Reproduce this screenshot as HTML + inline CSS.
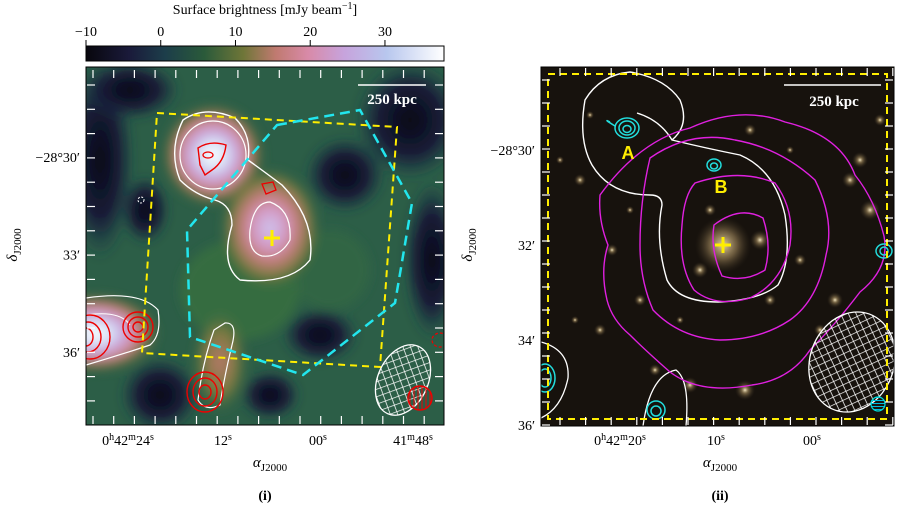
<!DOCTYPE html>
<html><head><meta charset="utf-8">
<style>
html,body{margin:0;padding:0;background:#fff;}
svg{display:block;font-family:"Liberation Serif",serif;}
</style></head>
<body>
<svg id="fig" width="899" height="508" viewBox="0 0 899 508" xmlns="http://www.w3.org/2000/svg">
<defs>
  <linearGradient id="cmap" x1="0" x2="1" y1="0" y2="0">
    <stop offset="0" stop-color="#08070d"/>
    <stop offset="0.12" stop-color="#1a1a3a"/>
    <stop offset="0.22" stop-color="#1c3d4a"/>
    <stop offset="0.33" stop-color="#2a5a3a"/>
    <stop offset="0.44" stop-color="#6f7638"/>
    <stop offset="0.53" stop-color="#c07a70"/>
    <stop offset="0.62" stop-color="#d88aa8"/>
    <stop offset="0.72" stop-color="#c7a3dc"/>
    <stop offset="0.84" stop-color="#b8c7ee"/>
    <stop offset="1" stop-color="#ffffff"/>
  </linearGradient>
  <radialGradient id="hotW"><stop offset="0" stop-color="#ffffff"/><stop offset="0.25" stop-color="#d8e4f6"/><stop offset="0.45" stop-color="#c8a6de"/><stop offset="0.62" stop-color="#d48a9c"/><stop offset="0.8" stop-color="#8e7548"/><stop offset="1" stop-color="#3b6a3e" stop-opacity="0"/></radialGradient>
  <radialGradient id="hotL"><stop offset="0" stop-color="#cdc6f0"/><stop offset="0.3" stop-color="#d49cc8"/><stop offset="0.55" stop-color="#c47e7c"/><stop offset="0.8" stop-color="#7a7a40"/><stop offset="1" stop-color="#3b6a3e" stop-opacity="0"/></radialGradient>
  <radialGradient id="warm"><stop offset="0" stop-color="#b8786a"/><stop offset="0.6" stop-color="#7a7a40"/><stop offset="1" stop-color="#3b6a3e" stop-opacity="0"/></radialGradient>
  <radialGradient id="dark"><stop offset="0" stop-color="#0a0914"/><stop offset="0.6" stop-color="#161a38" stop-opacity="0.95"/><stop offset="1" stop-color="#1c3d4a" stop-opacity="0"/></radialGradient>
  <radialGradient id="star"><stop offset="0" stop-color="#f4e6c0"/><stop offset="0.35" stop-color="#a88f60" stop-opacity="0.6"/><stop offset="1" stop-color="#3a2f20" stop-opacity="0"/></radialGradient>
  <radialGradient id="bcg"><stop offset="0" stop-color="#e8d3a0"/><stop offset="0.5" stop-color="#8b7550" stop-opacity="0.7"/><stop offset="1" stop-color="#3a2f20" stop-opacity="0"/></radialGradient>
  <filter id="blur"><feGaussianBlur stdDeviation="5"/></filter>
  <pattern id="hatch" width="7" height="7" patternUnits="userSpaceOnUse" patternTransform="rotate(45)">
    <path d="M0 0H7M0 0V7" stroke="#fff" stroke-width="1.4"/>
  </pattern>
  <pattern id="vhatch" width="4" height="4" patternUnits="userSpaceOnUse"><path d="M2 0V4" stroke="#e00" stroke-width="1"/></pattern>
  <pattern id="hhatch" width="4" height="3" patternUnits="userSpaceOnUse"><path d="M0 1.5H4" stroke="#0bd" stroke-width="1"/></pattern>
  <clipPath id="clipL"><rect x="86" y="67" width="358" height="358"/></clipPath>
  <clipPath id="clipR"><rect x="541" y="67" width="353" height="359"/></clipPath>
</defs>

<g>
  <text x="265" y="14" font-size="14" text-anchor="middle">Surface brightness [mJy beam<tspan dy="-5" font-size="10">−1</tspan><tspan dy="5">]</tspan></text>
  <rect x="86" y="46" width="358" height="15" fill="url(#cmap)" stroke="#000" stroke-width="1"/>
  <g id="cbticks"></g>
</g>

<g>
  <g clip-path="url(#clipL)">
    <rect x="86" y="67" width="358" height="358" fill="#2c5e47"/>
    <g filter="url(#blur)">
      <ellipse cx="240" cy="290" rx="60" ry="50" fill="#3a7040" opacity="0.8"/>
      <ellipse cx="330" cy="270" rx="40" ry="40" fill="#356a42" opacity="0.7"/>
      <ellipse cx="100" cy="160" rx="34" ry="100" fill="url(#dark)"/>
      <ellipse cx="130" cy="90" rx="50" ry="30" fill="url(#dark)"/>
      <ellipse cx="410" cy="120" rx="55" ry="60" fill="url(#dark)"/>
      <ellipse cx="345" cy="175" rx="40" ry="38" fill="url(#dark)"/>
      <ellipse cx="432" cy="260" rx="28" ry="80" fill="url(#dark)"/>
      <ellipse cx="160" cy="395" rx="40" ry="38" fill="url(#dark)"/>
      <ellipse cx="320" cy="335" rx="38" ry="28" fill="url(#dark)"/>
      <ellipse cx="145" cy="210" rx="24" ry="34" fill="url(#dark)"/>
      <ellipse cx="270" cy="395" rx="30" ry="25" fill="url(#dark)"/>
      <ellipse cx="213" cy="155" rx="52" ry="52" fill="url(#hotW)"/>
      <ellipse cx="270" cy="228" rx="50" ry="60" fill="url(#hotL)"/>
      <ellipse cx="95" cy="333" rx="65" ry="40" fill="url(#hotW)"/>
      <ellipse cx="220" cy="362" rx="28" ry="52" fill="url(#warm)"/>
    </g>
  </g>
  <g fill="none" clip-path="url(#clipL)">
    <path d="M183 120 Q205 105 235 118 Q252 135 248 160 Q262 170 282 185 Q316 220 310 260 Q290 285 240 280 Q220 265 232 225 Q232 205 215 200 Q195 195 180 180 Q168 150 183 120Z" stroke="#fff" stroke-width="1.4"/>
    <ellipse cx="213" cy="155" rx="33" ry="34" stroke="#fff" stroke-width="1.2"/>
    <path d="M270 202 Q292 210 290 240 Q280 258 262 256 Q248 252 250 230 Q254 202 270 202Z" stroke="#fff" stroke-width="1.2"/>
    <path d="M86 298 Q140 290 158 310 Q162 335 150 345 Q120 355 86 365" stroke="#fff" stroke-width="1.2"/>
    <path d="M86 315 Q120 310 130 325" stroke="#fff" stroke-width="1"/>
    <path d="M225 323 Q238 322 232 345 Q224 378 220 405 Q205 412 198 400 Q203 360 214 330Z" stroke="#fff" stroke-width="1.2"/>
    <path d="M198 148 Q210 140 226 145 Q224 162 212 170 L205 175 L200 165Z" stroke="#e00" stroke-width="1.4"/>
    <ellipse cx="208" cy="155" rx="5" ry="3" stroke="#e00" stroke-width="1.3"/>
    <path d="M262 184 L273 182 L276 190 L266 194Z" stroke="#e00" stroke-width="1.3"/>
    <ellipse cx="138" cy="327" rx="15" ry="15" stroke="#e00" stroke-width="1.4"/>
    <ellipse cx="138" cy="327" rx="10" ry="10" stroke="#e00" stroke-width="1.4"/>
    <ellipse cx="138" cy="327" rx="5" ry="5" stroke="#e00" stroke-width="1.4"/>
    <ellipse cx="90" cy="337" rx="20" ry="22" stroke="#e00" stroke-width="1.4"/>
    <ellipse cx="88" cy="337" rx="13" ry="15" stroke="#e00" stroke-width="1.4"/>
    <ellipse cx="86" cy="337" rx="7" ry="9" stroke="#e00" stroke-width="1.4"/>
    <ellipse cx="205" cy="392" rx="18" ry="20" stroke="#e00" stroke-width="1.4"/>
    <ellipse cx="205" cy="392" rx="12" ry="14" stroke="#e00" stroke-width="1.4"/>
    <ellipse cx="205" cy="392" rx="6" ry="7" stroke="#e00" stroke-width="1.4"/>
    <ellipse cx="440" cy="340" rx="8" ry="7" stroke="#e00" stroke-width="1.2" stroke-dasharray="3 2"/>
    <circle cx="141" cy="200" r="3" stroke="#fff" stroke-width="1" stroke-dasharray="2 1.5"/>
    <path d="M157 113 L397 127 L380 367 L142 353Z" stroke="#ffee00" stroke-width="2" stroke-dasharray="7 5"/>
    <path d="M277 125 L360 110 L412 203 L395 303 L303 375 L190 337 L187 230Z" stroke="#22e6ee" stroke-width="2.5" stroke-dasharray="10 6"/>
    <ellipse cx="403" cy="380" rx="25" ry="37" transform="rotate(25 403 380)" fill="url(#hatch)" stroke="#fff" stroke-width="1.3"/>
    <circle cx="420" cy="398" r="12" fill="url(#vhatch)" stroke="#e00" stroke-width="1.4"/>
    <path d="M272 230V246M264 238H280" stroke="#ffee00" stroke-width="3"/>
    <line x1="358" y1="85" x2="426" y2="85" stroke="#fff" stroke-width="1.5"/>
    <text x="392" y="104" font-size="15" font-weight="bold" fill="#fff" text-anchor="middle">250 kpc</text>
  </g>
  <rect x="86" y="67" width="358" height="358" fill="none" stroke="#000" stroke-width="1"/>
  <g id="ticksL"></g>
  <text x="270" y="467" font-size="15" text-anchor="middle"><tspan font-style="italic">α</tspan><tspan dy="4" font-size="11">J2000</tspan></text>
  <text transform="translate(17 245) rotate(-90)" font-size="15" text-anchor="middle"><tspan font-style="italic">δ</tspan><tspan dy="4" font-size="11">J2000</tspan></text>
  <text x="265" y="500" font-size="14" font-weight="bold" text-anchor="middle">(i)</text>
</g>

<g>
  <g clip-path="url(#clipR)">
    <rect x="541" y="67" width="353" height="359" fill="#17120d"/>
    <g id="stars"></g>
  </g>
  <g fill="none" clip-path="url(#clipR)">
    <path d="M637 113 Q660 120 672 140 Q705 148 740 155 Q775 170 785 215 Q792 260 778 285 Q760 300 718 302 Q678 302 667 280 Q655 240 662 205 Q662 195 650 195 Q610 195 592 165 Q578 140 585 100 Q600 75 630 72 Q665 78 680 100 Q690 125 672 140" stroke="#fff" stroke-width="1.4"/>
    <path d="M541 342 Q570 350 568 378 Q562 408 541 418" stroke="#fff" stroke-width="1.3"/>
    <path d="M643 426 Q650 375 676 370 Q690 380 686 426" stroke="#fff" stroke-width="1.3"/>
    <path d="M600 195 Q640 140 690 128 Q740 105 785 122 Q840 135 855 175 Q875 200 884 236 Q890 268 860 292 Q835 325 810 350 Q790 380 752 385 Q700 395 670 372 Q645 350 630 335 Q612 320 607 300 Q600 270 608 245 Q598 220 600 195Z" stroke="#e020e0" stroke-width="1.4"/>
    <path d="M650 158 Q690 130 735 140 Q780 148 815 180 Q835 220 826 255 Q818 300 790 320 Q760 340 720 340 Q680 338 653 310 Q640 280 640 245 Q640 200 650 158Z" stroke="#e020e0" stroke-width="1.4"/>
    <path d="M695 183 Q740 168 775 183 Q795 210 790 245 Q782 283 750 298 Q715 308 694 290 Q678 265 682 225 Q684 195 695 183Z" stroke="#e020e0" stroke-width="1.4"/>
    <path d="M714 225 Q740 205 763 218 Q772 245 765 270 Q745 283 722 276 Q710 250 714 225Z" stroke="#e020e0" stroke-width="1.4"/>
    <g stroke="#22dddd" stroke-width="1.5">
      <ellipse cx="627" cy="128" rx="12" ry="10"/><ellipse cx="627" cy="128" rx="8" ry="7"/><ellipse cx="627" cy="129" rx="4" ry="3.5"/>
      <path d="M615 126 Q602 118 610 122"/>
      <ellipse cx="714" cy="165" rx="7" ry="6"/><ellipse cx="714" cy="166" rx="3.5" ry="3"/>
      <ellipse cx="884" cy="251" rx="8" ry="7"/><ellipse cx="884" cy="251" rx="4" ry="4"/>
      <ellipse cx="545" cy="378" rx="10" ry="14"/><ellipse cx="545" cy="378" rx="6" ry="9"/>
      <ellipse cx="656" cy="410" rx="9" ry="9"/><ellipse cx="656" cy="411" rx="5" ry="5"/>
    </g>
    <text x="628" y="159" font-family="Liberation Sans,sans-serif" font-weight="bold" font-size="18" fill="#ffee00" text-anchor="middle">A</text>
    <text x="721" y="193" font-family="Liberation Sans,sans-serif" font-weight="bold" font-size="18" fill="#ffee00" text-anchor="middle">B</text>
    <path d="M723 237V253M715 245H731" stroke="#ffee00" stroke-width="3"/>
    <ellipse cx="852" cy="362" rx="42" ry="51" transform="rotate(20 852 362)" fill="url(#hatch)" stroke="#fff" stroke-width="1.3"/>
    <circle cx="878" cy="404" r="7" fill="url(#hhatch)" stroke="#0dd" stroke-width="1.2"/>
    <rect x="548" y="74" width="339" height="345" stroke="#ffee00" stroke-width="2" stroke-dasharray="7 5"/>
    <line x1="784" y1="85" x2="881" y2="85" stroke="#fff" stroke-width="1.5"/>
    <text x="834" y="106" font-size="15" font-weight="bold" fill="#fff" text-anchor="middle">250 kpc</text>
  </g>
  <rect x="541" y="67" width="353" height="359" fill="none" stroke="#000" stroke-width="1"/>
  <g id="ticksR"></g>
  <text x="720" y="467" font-size="15" text-anchor="middle"><tspan font-style="italic">α</tspan><tspan dy="4" font-size="11">J2000</tspan></text>
  <text transform="translate(472 245) rotate(-90)" font-size="15" text-anchor="middle"><tspan font-style="italic">δ</tspan><tspan dy="4" font-size="11">J2000</tspan></text>
  <text x="720" y="500" font-size="14" font-weight="bold" text-anchor="middle">(ii)</text>
</g>
</svg>
<script>
const cbTicks = [-10, 0, 10, 20, 30];
const cbMin = -10, cbMax = 37.9;
const xLabelsL = ["0h42m24s", "12s", "00s", "41m48s"];
const xValsL = [0, 1, 2, 3];
const yLabelsL = ["−28°30′", "33′", "36′"];
const yValsL = [0, 1, 2];
const xLabelsR = ["0h42m20s", "10s", "00s"];
const xValsR = [0, 1, 2];
const yLabelsR = ["−28°30′", "32′", "34′", "36′"];
const yValsR = [0, 1, 2, 3];
const starX = [723,700,760,640,600,580,850,870,820,690,745,770,655,612,560,800,860,590,710,835,680,750,630,575,880,790];
const starY = [245,270,240,300,330,180,180,210,330,385,390,300,370,250,160,260,160,115,210,300,320,130,210,320,120,150];
const starR = [14,4,5,3,3,3,4,5,3,4,5,3,3,3,2,3,4,2,3,4,2,3,2,2,3,2];

const NS = "http://www.w3.org/2000/svg";
function mk(tag, attrs, parent, txt){ const e=document.createElementNS(NS,tag); for(const k in attrs) e.setAttribute(k,attrs[k]); if(txt!==undefined) e.textContent=txt; parent.appendChild(e); return e; }

const cbX = v => 86 + (v - cbMin) / (cbMax - cbMin) * 358;
const cbg = document.getElementById('cbticks');
cbTicks.forEach(v => {
  const x = cbX(v);
  mk('line',{x1:x,y1:40,x2:x,y2:46,stroke:'#000'},cbg);
  const t = mk('text',{x:x,y:36,'font-size':14,'text-anchor':'middle'},cbg,v<0?'−'+Math.abs(v):String(v));
  
  
});

function raText(g, x, y, lab){
  const t = mk('text',{x:x,y:y,'font-size':14,'text-anchor':'middle'},g);
  const parts = lab.match(/\d+|[hms]/g);
  let up = false;
  parts.forEach(p => {
    if(/\d/.test(p)){ mk('tspan', up ? {dy:5} : {}, t, p); up = false; }
    else { mk('tspan',{dy:-5,'font-size':10},t,p); up = true; }
  });
  
  
}
const gL = document.getElementById('ticksL');
const xL = v => 128 + v * 95;
const yL = v => 157 + v * 97.5;
xValsL.forEach((v,i)=>raText(gL, xL(v), 445, xLabelsL[i]));
yValsL.forEach((v,i)=>{ const t=mk('text',{x:80,y:yL(v)+5,'font-size':14,'text-anchor':'end'},gL,yLabelsL[i]);
  
   });
for(let x=93;x<444;x+=20.7){ mk('line',{x1:x,y1:70,x2:x,y2:78,stroke:'#fff','stroke-width':1.2},gL); mk('line',{x1:x,y1:416,x2:x,y2:424,stroke:'#fff','stroke-width':1.2},gL); }
for(let y=85;y<425;y+=24.3){ mk('line',{x1:87,y1:y,x2:95,y2:y,stroke:'#fff','stroke-width':1.2},gL); mk('line',{x1:435,y1:y,x2:443,y2:y,stroke:'#fff','stroke-width':1.2},gL); }
const gR = document.getElementById('ticksR');
const xR = v => 620 + v * 96;
const yR = v => 150 + v * 95;
xValsR.forEach((v,i)=>raText(gR, xR(v), 445, xLabelsR[i]));
yValsR.forEach((v,i)=>{ const t=mk('text',{x:535,y:Math.min(yR(v),425)+5,'font-size':14,'text-anchor':'end'},gR,yLabelsR[i]);
  
   });
for(let x=560;x<894;x+=25.6){ mk('line',{x1:x,y1:68,x2:x,y2:76,stroke:'#fff','stroke-width':1.2},gR); mk('line',{x1:x,y1:417,x2:x,y2:425,stroke:'#fff','stroke-width':1.2},gR); }
for(let y=80;y<426;y+=23){ mk('line',{x1:542,y1:y,x2:550,y2:y,stroke:'#fff','stroke-width':1.2},gR); mk('line',{x1:885,y1:y,x2:893,y2:y,stroke:'#fff','stroke-width':1.2},gR); }
const sg = document.getElementById('stars');
starX.forEach((x,i)=>{ const c=mk('circle',{cx:x,cy:starY[i],r:starR[i]*2,fill:i==0?'url(#bcg)':'url(#star)'},sg);
  
   });
</script>
</body></html>
